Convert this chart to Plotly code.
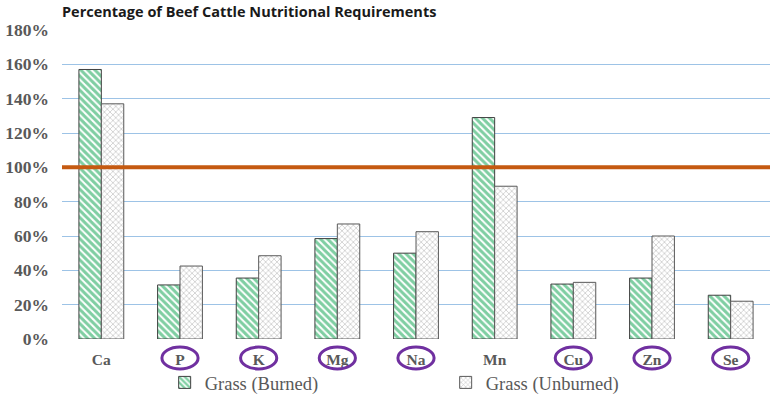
import plotly.graph_objects as go

categories = ["Ca", "P", "K", "Mg", "Na", "Mn", "Cu", "Zn", "Se"]
burned = [157, 31.5, 35.5, 58.5, 50, 129, 32, 35.5, 25.5]
unburned = [137, 42.5, 48.5, 67, 62.5, 89, 33, 60, 22]
circled = ["P", "K", "Mg", "Na", "Cu", "Zn", "Se"]
ref_level = 100
y_ticks = [0, 20, 40, 60, 80, 100, 120, 140, 160, 180]
y_tick_text = [f"<b>{v}%</b>" for v in y_ticks]
x_tick_text = [f"<b>{c}</b>" for c in categories]

fig = go.Figure()
fig.add_trace(go.Bar(
    x=categories, y=burned, name="Grass (Burned)",
    marker=dict(color="white", line=dict(color="#404040", width=1),
                pattern=dict(shape="\\", fgcolor="#009E45", bgcolor="white", size=5, solidity=0.6)),
))
fig.add_trace(go.Bar(
    x=categories, y=unburned, name="Grass (Unburned)",
    marker=dict(color="white", line=dict(color="#595959", width=1),
                pattern=dict(shape="x", fgcolor="#808080", bgcolor="white", size=4, solidity=0.3)),
))

fig.add_shape(type="line", xref="paper", x0=0, x1=1, yref="y", y0=ref_level, y1=ref_level,
              line=dict(color="#C55A11", width=4), layer="above")

for i, c in enumerate(categories):
    if c in circled:
        fig.add_shape(type="circle", xref="x", yref="paper",
                      x0=i - 0.23, x1=i + 0.23, y0=-0.097, y1=-0.026,
                      line=dict(color="#7030A0", width=3))

fig.update_layout(
    width=780, height=396,
    margin=dict(l=62, r=10, t=30, b=57, autoexpand=False),
    paper_bgcolor="white", plot_bgcolor="white",
    barmode="group", bargap=0.43, bargroupgap=0,
    title=dict(text="<b>Percentage of Beef Cattle Nutritional Requirements</b>",
               xref="paper", x=0, xanchor="left", yref="container", y=0.982, yanchor="top",
               font=dict(family="Open Sans, Liberation Sans, sans-serif", size=14.5, color="#1a1a1a")),
    showlegend=True,
    legend=dict(orientation="h", x=0.145, xanchor="left", y=-0.142, yanchor="middle",
                font=dict(family="Liberation Serif, serif", size=18.5, color="#595959"),
                entrywidth=236, itemwidth=30, bgcolor="rgba(0,0,0,0)"),
)
fig.update_yaxes(range=[0, 180], tickvals=y_ticks, ticktext=y_tick_text,
                 showgrid=True, gridcolor="#9DC3E6", gridwidth=1, zeroline=False,
                 tickfont=dict(family="Liberation Serif, serif", size=17.5, color="#595959"),
                 ticks="", ticklabelstandoff=12)
fig.update_xaxes(showgrid=False, showline=False, ticks="",
                 tickvals=categories, ticktext=x_tick_text,
                 tickfont=dict(family="Liberation Serif, serif", size=15.5, color="#595959"),
                 ticklabelstandoff=9)

fig.write_html("out.html", config={"displayModeBar": False},
               post_script="document.body.style.margin='0';")
